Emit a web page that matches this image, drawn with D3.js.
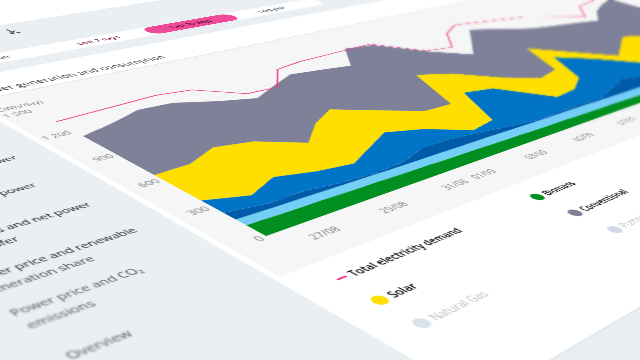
<!DOCTYPE html>
<html>
<head>
<meta charset="utf-8">
<script src="https://cdn.jsdelivr.net/npm/d3@7"></script>
<style>
html, body { margin: 0; width: 640px; height: 360px; overflow: hidden; background: #e9eff3; }
#stage { position: absolute; left: 0; top: 0; width: 640px; height: 360px; overflow: hidden; }
#board { position: absolute; left: 0; top: 0; transform-origin: 0 0; font-family: "Open Sans", sans-serif; }
.blur { position: absolute; left: 0; top: 0; width: 640px; height: 360px; pointer-events: none; }
#blurTop { backdrop-filter: blur(0.8px); -webkit-mask-image: linear-gradient(200deg, #000 12%, transparent 30%); mask-image: linear-gradient(200deg, #000 12%, transparent 30%); }
#blurLow { backdrop-filter: blur(0.7px); -webkit-mask-image: linear-gradient(20deg, #000 15%, transparent 30%); mask-image: linear-gradient(20deg, #000 15%, transparent 30%); }
#blurLow2 { backdrop-filter: blur(1.2px); -webkit-mask-image: linear-gradient(20deg, #000 8%, transparent 20%); mask-image: linear-gradient(20deg, #000 8%, transparent 20%); }
</style>
</head>
<body>
<div id="stage">
  <div id="board"></div>
  <div class="blur" id="blurTop"></div>
  <div class="blur" id="blurLow"></div>
  <div class="blur" id="blurLow2"></div>
</div>
<script>
// Values (GWh/day per day)
const days = ["26/08","27/08","28/08","29/08","30/08","31/08","01/09","02/09","03/09","04/09","05/09","06/09",
              "07/09","08/09","09/09","10/09","11/09","12/09","13/09","14/09","15/09","16/09","17/09","18/09"];
const biomass =      [106,103,100,97,94,91,88,85,82,79,76,74,72,70,67,65,63,62,60,60,60,60,60,60];
const hydro =        [58,57,58,58,58,59,62,63,66,66,67,69,70,70,71,72,72,73,75,75,75,75,75,75];
const windOffshore = [68,37,44,20,11,25,80,83,57,32,7,12,18,14,72,130,86,55,45,45,45,45,45,45];
const windOnshore =  [132,93,168,138,120,193,223,149,36,98,449,404,134,161,201,434,339,179,220,240,240,240,240,240];
const solar =        [288,370,373,385,273,336,346,285,295,255,319,271,349,210,157,191,144,149,220,301,237,230,230,230];
const conventional = [483,530,520,553,604,387,381,598,698,670,506,561,506,454,572,412,511,607,465,329,353,493,573,630];
const demand =       [1332,1345,1358,1372,1341,1163,1155,1355,1388,1395,1404,1412,1161,1130,1323,1414,1378,1340,1303,1205,1106,1275,1310,1340];

const yTicks = [0,300,600,900,1200,1500];
const xTicks = ["27/08","29/08","31/08","01/09","03/09","05/09","07/09","09/09"];

const seriesNames = ["biomass","hydro","windOffshore","windOnshore","solar","conventional"];
const seriesColors = {biomass:"#008f20", hydro:"#74cff7", windOffshore:"#005ba9", windOnshore:"#0074c6", solar:"#ffdf00", conventional:"#7f8199"};

const sideItems = [
    {text:"Renewable and total power", y:585, color:"#111"},
    {text:"Conventional net power", y:638, color:"#111"},
    {text:"Net exports and net power", y:689, color:"#111"},
    {text:"net transfer", y:707, color:"#111"},
    {text:"Power price and renewable", y:742, color:"#222"},
    {text:"generation share", y:760, color:"#444"},
    {text:"Power price and CO₂", y:791, color:"#555"},
    {text:"emissions", y:809, color:"#555"},
    {text:"Overview", y:851, color:"#555"}
];
const legendItems = [
    {text:"Total electricity demand", x:600, y:876, color:"#f0378a", ink:"#000", weight:600, line:true},
    {text:"Solar", x:598, y:912, color:"#ffdf00", ink:"#000", weight:600},
    {text:"Natural Gas", x:598, y:948, color:"#d5e4ec", ink:"#bdbdbd", weight:400},
    {text:"Biomass", x:833, y:876, color:"#008f20", ink:"#000", weight:600},
    {text:"Conventional", x:833, y:912, color:"#7f8199", ink:"#000", weight:600},
    {text:"Pumped storage", x:833, y:948, color:"#d3d8ec", ink:"#c4c4c4", weight:400}
];

// Board is drawn flat, the whole thing is then tilted with one homography
const originX = 600, originY = 800, pxPerDay = 38.8, pxPerGWh = 0.2;
const vanishO = [266,236], vanishX = [1528,-213.3], vanishY = [-976,-442];
const A = 1 / (40 * 31.4), B = (1 / pxPerGWh) / 6565;
const matrix = [
    A * vanishX[0], A * vanishX[1], 0, A,
    -B * vanishY[0], -B * vanishY[1], 0, -B,
    0, 0, 1, 0,
    vanishO[0] - originX * A * vanishX[0] + originY * B * vanishY[0],
    vanishO[1] - originX * A * vanishX[1] + originY * B * vanishY[1],
    0,
    1 - originX * A + originY * B
];

const boardW = 2200, boardH = 1300;
const board = d3.select("#board")
    .style("width", boardW + "px")
    .style("height", boardH + "px")
    .style("transform", `matrix3d(${matrix.join(",")})`);

const svg = board.append("svg").attr("width", boardW).attr("height", boardH).style("display", "block");

// Page background and panels
svg.append("rect").attr("width", boardW).attr("height", boardH).attr("fill", "#e9eff3");
svg.append("rect").attr("width", boardW).attr("height", 265).attr("fill", "#ffffff");
svg.append("rect").attr("x", 560).attr("y", 346).attr("width", 545).attr("height", 28).attr("rx", 14).attr("fill", "#ffffff");
svg.append("rect").attr("x", 560).attr("y", 397).attr("width", 1640).attr("height", 628).attr("fill", "#ffffff");
svg.append("rect").attr("x", 566).attr("y", 454).attr("width", 1634).attr("height", 396).attr("fill", "#f6f6f6");
svg.append("line").attr("x1", 560).attr("x2", 2200).attr("y1", 454).attr("y2", 454).attr("stroke", "#d2d2d2");
svg.append("line").attr("x1", 560).attr("x2", 2200).attr("y1", 1025).attr("y2", 1025).attr("stroke", "#d7dfe4");

// Toolbar
svg.append("rect").attr("x", 834).attr("y", 347).attr("width", 129).attr("height", 26).attr("rx", 13).attr("fill", "#ef4a9a");
const toolbarText = [
    {text:"Last 7 days", x:769, color:"#7a1440"},
    {text:"Last 30 days", x:897, color:"#3d0a26"},
    {text:"Last year", x:1024, color:"#333"}
];
svg.selectAll(".tool").data(toolbarText).enter().append("text")
    .attr("class", "tool")
    .attr("x", d => d.x)
    .attr("y", 364)
    .attr("text-anchor", "middle")
    .style("font-size", "10px")
    .style("font-weight", 600)
    .style("fill", d => d.color)
    .text(d => d.text);
svg.append("text").attr("x", 660).attr("y", 364).attr("text-anchor", "end")
    .style("font-size", "10px").style("fill", "#222").text("Selection");

// Download and print icons
svg.append("path").attr("d", "M706 282 V294 M701 289 L706 294 L711 289 M699 297 H713")
    .attr("fill", "none").attr("stroke", "#222").attr("stroke-width", 1.5);
svg.append("path").attr("d", "M664 284 V296 M659 291 L664 296 L669 291 M657 298 H671")
    .attr("fill", "none").attr("stroke", "#222").attr("stroke-width", 1.5);

// Title
svg.append("text").attr("transform", "translate(795,443) scale(1,1.15)").attr("text-anchor", "end")
    .style("font-size", "13px").style("fill", "#3c3c3c").text("Power generation and consumption");

// Sidebar
svg.selectAll(".side").data(sideItems).enter().append("text")
    .attr("class", "side")
    .attr("x", 397)
    .attr("y", d => d.y)
    .style("font-size", "10.4px")
    .style("font-weight", 500)
    .style("fill", d => d.color)
    .text(d => d.text);

// Scales
const x = d3.scalePoint().domain(days).range([originX, originX + pxPerDay * (days.length - 1)]);
const y = d3.scaleLinear().domain([0, 1500]).range([originY, originY - 1500 * pxPerGWh]);

// Grid
svg.selectAll(".grid").data(yTicks).enter().append("line")
    .attr("class", "grid")
    .attr("x1", originX).attr("x2", 2200)
    .attr("y1", d => y(d)).attr("y2", d => y(d))
    .attr("stroke", "#eeeeee");

// Stacked areas
const table = days.map((d, i) => ({
    day: d, biomass: biomass[i], hydro: hydro[i], windOffshore: windOffshore[i],
    windOnshore: windOnshore[i], solar: solar[i], conventional: conventional[i]
}));
const stacked = d3.stack().keys(seriesNames)(table);
const area = d3.area().x(d => x(d.data.day)).y0(d => y(d[0])).y1(d => y(d[1]));

svg.selectAll(".layer").data(stacked).enter().append("path")
    .attr("class", "layer")
    .attr("d", area)
    .attr("fill", d => seriesColors[d.key]);

// thin blue edge between solar and conventional
const solarLayer = stacked[4];
svg.append("path")
    .attr("d", d3.line().x(d => x(d.data.day)).y(d => y(d[1]))(solarLayer))
    .attr("fill", "none").attr("stroke", "#5a6cc4").attr("stroke-width", 0.8);

// Demand line
svg.append("path")
    .attr("d", d3.line().x((d, i) => x(days[i])).y(d => y(d))(demand))
    .attr("fill", "none").attr("stroke", "#f0378a").attr("stroke-width", 1.6);

// Axes
const yAxis = svg.append("g").attr("transform", `translate(${originX - 4},0)`)
    .call(d3.axisLeft(y).tickValues(yTicks).tickSize(0).tickPadding(0)
        .tickFormat(d => d >= 1000 ? d3.format(",")(d).replace(",", " ") : d));
const xAxis = svg.append("g").attr("transform", `translate(0,${originY})`)
    .call(d3.axisBottom(x).tickValues(xTicks).tickSize(0).tickPadding(17));
[yAxis, xAxis].forEach(g => {
    g.select(".domain").remove();
    g.selectAll("text").style("font-size", "10.8px").style("font-family", "Open Sans").style("fill", "#7d7d7d");
});

svg.append("text").attr("x", 568).attr("y", 489)
    .style("font-size", "10px").style("fill", "#7d7d7d").text("(GWh/day)");

// Legend
const legend = svg.selectAll(".legend").data(legendItems).enter().append("g").attr("class", "legend");
legend.filter(d => !d.line).append("circle")
    .attr("cx", d => d.x).attr("cy", d => d.y).attr("r", 6).attr("fill", d => d.color);
legend.filter(d => d.line).append("line")
    .attr("x1", d => d.x - 5).attr("x2", d => d.x + 4)
    .attr("y1", d => d.y).attr("y2", d => d.y)
    .attr("stroke", d => d.color).attr("stroke-width", 2);
legend.append("text")
    .attr("x", d => d.line ? d.x + 8 : d.x + 10).attr("y", d => d.y + 4)
    .style("font-size", "10.4px")
    .style("font-weight", d => d.weight)
    .style("fill", d => d.ink)
    .text(d => d.text);
</script>
</body>
</html>
